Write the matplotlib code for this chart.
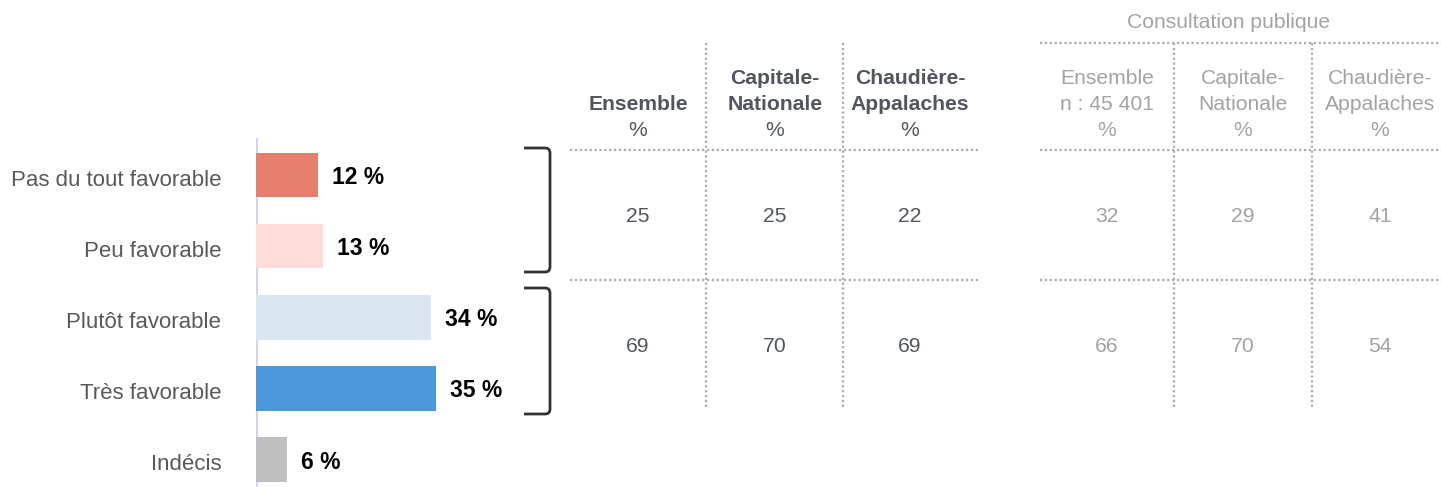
import matplotlib.pyplot as plt
import matplotlib.transforms as mtransforms
from matplotlib.path import Path
from matplotlib.patches import PathPatch

plt.rcParams['font.family'] = ['Liberation Sans', 'DejaVu Sans']

# Opinion distribution
categories = ['Pas du tout favorable', 'Peu favorable', 'Plutôt favorable',
              'Très favorable', 'Indécis']
values = [12, 13, 34, 35, 6]
bar_colors = ['#e5806f', '#fddbd6', '#dae6f0', '#4a98d9', '#bfbfbf']

# Grouped results (défavorable / favorable)
survey_cols = ['Ensemble', 'Capitale-\nNationale', 'Chaudière-\nAppalaches']
survey_rows = [[25, 25, 22], [69, 70, 69]]
consult_title = 'Consultation publique'
consult_cols = ['Ensemble\nn : 45 401', 'Capitale-\nNationale', 'Chaudière-\nAppalaches']
consult_rows = [[32, 29, 41], [66, 70, 54]]

W, H = 1441, 487
fig = plt.figure(figsize=(W / 100, H / 100), dpi=100)

# --- bar chart (axes placed in pixel units) ---
x0, px_per_pct = 256, 5.14
y_top, y_bot = 138, 487
ax = fig.add_axes([x0 / W, 1 - y_bot / H, (px_per_pct * 50) / W, (y_bot - y_top) / H])
pos = list(range(len(categories)))
ax.barh(pos, values, height=0.63, color=bar_colors, zorder=2)
ax.set_xlim(0, 50)
ax.set_ylim(4.39, -0.52)
ax.axvline(0, color='#cdd3ea', lw=2, zorder=1)
for s in ax.spines.values():
    s.set_visible(False)
ax.set_xticks([])
ax.set_yticks(pos)
ax.set_yticklabels(categories, fontsize=16, color='#595959')
ax.tick_params(axis='y', length=0, pad=25)
shift = mtransforms.ScaledTranslation(0, -3 / 100, fig.dpi_scale_trans)
for lbl in ax.get_yticklabels():
    lbl.set_transform(lbl.get_transform() + shift)
for p, v in zip(pos, values):
    ax.annotate(f'{v} %', (v, p), xytext=(10, -2), textcoords='offset points',
                ha='left', va='center', fontsize=16.5, fontweight='bold', color='black')

# --- overlay in pixel coordinates for table and brackets ---
ov = fig.add_axes([0, 0, 1, 1], facecolor='none')
ov.set_xlim(0, W)
ov.set_ylim(H, 0)
ov.axis('off')

dot = dict(color='#ababab', lw=1.6, linestyle=(0, (1, 1.2)))


def bracket(y1, y2, x=550, x_start=524, r=5):
    verts = [(x_start, y1), (x - r, y1), (x, y1), (x, y1 + r), (x, y2 - r),
             (x, y2), (x - r, y2), (x_start, y2)]
    codes = [Path.MOVETO, Path.LINETO, Path.CURVE3, Path.CURVE3, Path.LINETO,
             Path.CURVE3, Path.CURVE3, Path.LINETO]
    ov.add_patch(PathPatch(Path(verts, codes), fill=False, ec='#333333', lw=2))


bracket(148, 272)
bracket(288, 414)

row_y = [216, 346]
head_y = [79, 105, 130]


def draw_table(cols, rows, xs, x_lo, x_hi, vlines, color, bold_head):
    for xv in vlines:
        ov.plot([xv, xv], [43, 408], **dot)
    for yh in (150, 280):
        ov.plot([x_lo, x_hi], [yh, yh], **dot)
    for xc, name in zip(xs, cols):
        lines = name.split('\n') + ['%']
        ys = head_y[-len(lines):]
        for i, (ln, yy) in enumerate(zip(lines, ys)):
            ov.text(xc, yy, ln, ha='center', va='center', fontsize=15.2, color=color,
                    fontweight='bold' if (bold_head and i < len(lines) - 1) else 'normal')
    for yy, row in zip(row_y, rows):
        for xc, v in zip(xs, row):
            ov.text(xc, yy, str(v), ha='center', va='center', fontsize=15.2, color=color)


draw_table(survey_cols, survey_rows, [638, 775, 910], 570, 978, [706, 843],
           '#50555e', True)
draw_table(consult_cols, consult_rows, [1107, 1243, 1380], 1040, 1441, [1174, 1312],
           '#a3a3a3', False)
ov.plot([1040, 1441], [43, 43], **dot)
ov.text(1229, 23, consult_title, ha='center', va='center', fontsize=15.2, color='#a3a3a3')

fig.savefig('out.png', dpi=100)
